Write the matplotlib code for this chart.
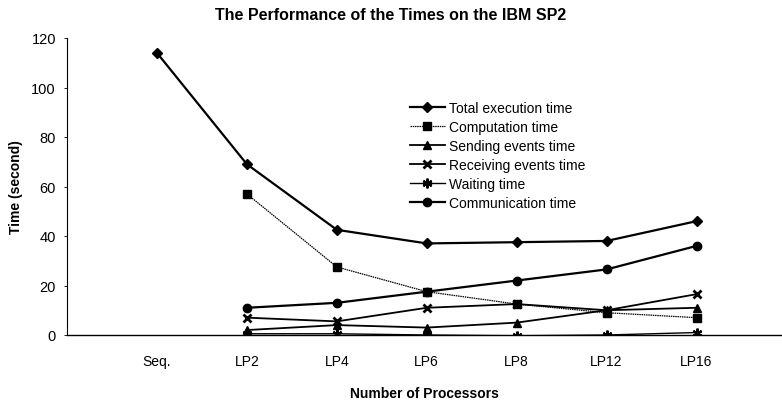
import matplotlib
matplotlib.use("Agg")
import matplotlib.pyplot as plt
import numpy as np

categories = ["Seq.", "LP2", "LP4", "LP6", "LP8", "LP12", "LP16"]
total = [114, 69, 42.5, 37, 37.5, 38, 46]
computation = [np.nan, 57, 27.5, 17.5, 12.5, 9, 7]
sending = [np.nan, 2, 4, 3, 5, 10, 11]
receiving = [np.nan, 7, 5.5, 11, 12.5, 10, 16.5]
waiting = [np.nan, 0.5, 0.5, 0, -0.3, 0, 1]
communication = [np.nan, 11, 13, 17.5, 22, 26.5, 36]
yticks = [0, 20, 40, 60, 80, 100, 120]

plt.rcParams['font.family'] = ['Liberation Sans', 'DejaVu Sans']

fig = plt.figure(figsize=(7.82, 4.06), dpi=100)
ax = fig.add_axes([67/782, 1-336/406, 715/782, 297/406])

x = np.arange(1, len(categories)+1)
ax.plot(x, total, color='black', lw=1.6, marker='D', ms=5, label='Total execution time')
ax.plot(x, computation, color='black', lw=0.9, ls=(0, (1.2, 0.6)), marker='s', ms=5.5, label='Computation time')
ax.plot(x, sending, color='black', lw=1.3, marker='^', ms=6, label='Sending events time')
ax.plot(x, receiving, color='black', lw=1.3, marker='x', ms=6, mew=2, label='Receiving events time')
ax.plot(x, waiting, color='black', lw=1.0, marker=(6, 2, 0), ms=7, mew=1.6, label='Waiting time')
ax.plot(x, communication, color='black', lw=1.6, marker='o', ms=6, label='Communication time')

ax.set_xlim(0, 7.95)
ax.set_ylim(0, 120)
ax.set_xticks(x)
ax.set_xticklabels(categories, fontsize=10)
ax.set_yticks(yticks)
ax.tick_params(axis='x', length=0, pad=14)
ax.tick_params(axis='y', length=2, width=0.6, pad=6, labelsize=10.5)
for s in ['top', 'right']:
    ax.spines[s].set_visible(False)
ax.spines['left'].set_linewidth(0.8)
ax.spines['bottom'].set_linewidth(1.0)

ax.set_ylabel('Time (second)', fontsize=10, fontweight='bold', labelpad=6)
ax.set_xlabel('Number of Processors', fontsize=10, fontweight='bold', labelpad=13)
fig.text(0.5, 1-15/406, 'The Performance of the Times on the IBM SP2', ha='center', va='center',
         fontsize=11.5, fontweight='bold')

leg = ax.legend(loc='upper left', bbox_to_anchor=((403-67)/715, (336-95)/297), frameon=False,
                fontsize=10, handlelength=2.5, handletextpad=0.3, labelspacing=0.36, borderpad=0)

fig.savefig('out.png', dpi=100)
